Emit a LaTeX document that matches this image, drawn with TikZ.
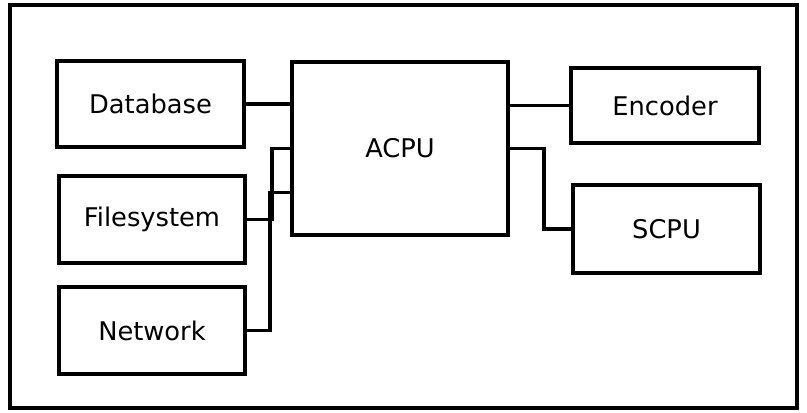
\documentclass[tikz,border=0pt]{standalone}
\usepackage{fontspec}
\setmainfont{DejaVu Sans}
\usetikzlibrary{calc}

\begin{document}
\begin{tikzpicture}[
  x=0.025cm, y=-0.025cm,
  box/.style={draw, line width=2.6pt, align=center, inner sep=0pt, font=\fontsize{18.3}{22}\selectfont},
  wire/.style={line width=2.6pt},
]
\useasboundingbox (0,0) rectangle (807,413);
% --- frame ---
\draw[line width=2.6pt] (10,5) rectangle (797,408);
% --- sources (left column) ---
\node[box, minimum width=187*0.025cm, minimum height=86*0.025cm] (db) at (150.5,104) {Database};
\node[box, minimum width=186*0.025cm, minimum height=87*0.025cm] (fs) at (152,219.5) {Filesystem};
\node[box, minimum width=186*0.025cm, minimum height=87*0.025cm] (net) at (152,330.5) {Network};
% --- centre ---
\node[box, minimum width=216*0.025cm, minimum height=173*0.025cm] (acpu) at (400,148.5) {ACPU};
% --- outputs (right column) ---
\node[box, minimum width=188*0.025cm, minimum height=75*0.025cm] (enc) at (665,105.5) {Encoder};
\node[box, minimum width=187*0.025cm, minimum height=88*0.025cm] (scpu) at (666.5,229) {SCPU};
% --- wires ---
\draw[wire] (db.east) -- (db.east -| acpu.west);
\draw[wire] (fs.east) -- ++(25,0) |- (acpu.west);
\draw[wire] (net.east) -- ++(23,0) |- ($(acpu.west)+(0,44)$);
\draw[wire] (enc.west -| acpu.east) -- (enc.west);
\draw[wire] (acpu.east) -- ++(34,0) |- (scpu.west);
\end{tikzpicture}
\end{document}
